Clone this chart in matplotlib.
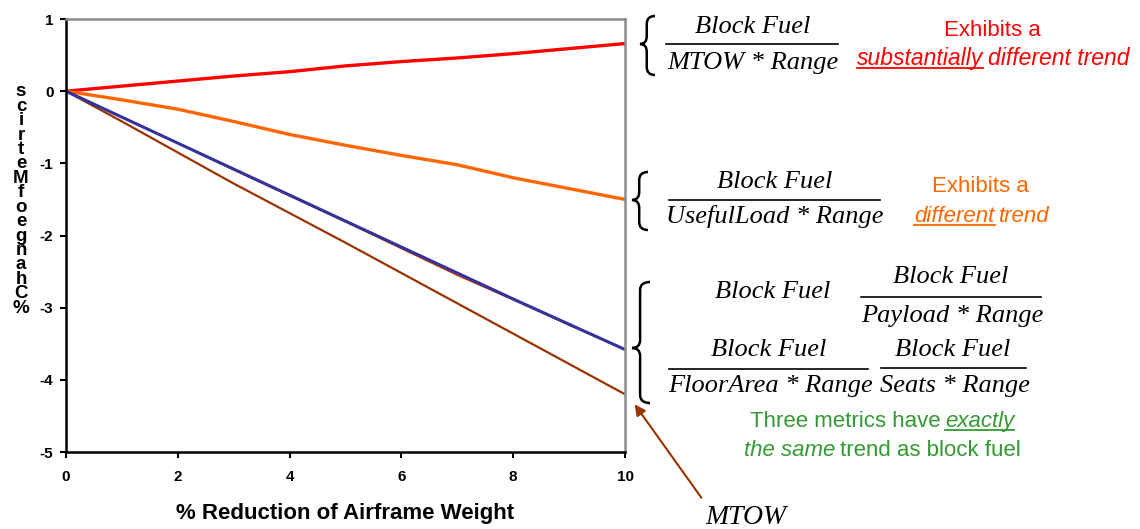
import numpy as np
import matplotlib.pyplot as plt
from matplotlib.path import Path
from matplotlib.patches import PathPatch, FancyArrowPatch
from matplotlib.lines import Line2D

plt.rcParams['axes.unicode_minus'] = False

# % reduction of airframe weight
x_reduction = [0, 1, 2, 3, 4, 5, 6, 7, 8, 9, 10]
# % change of each metric
fuel_per_mtow_range = [0, 0.07, 0.14, 0.21, 0.27, 0.35, 0.41, 0.46, 0.52, 0.59, 0.66]
fuel_per_useful_range = [0, -0.12, -0.25, -0.42, -0.60, -0.75, -0.89, -1.02, -1.20, -1.35, -1.50]
block_fuel = [0, -0.36, -0.72, -1.09, -1.45, -1.81, -2.18, -2.55, -2.89, -3.24, -3.58]
fuel_per_payload_range = [0, -0.36, -0.72, -1.08, -1.44, -1.80, -2.16, -2.52, -2.88, -3.23, -3.58]
mtow = [0, -0.42, -0.85, -1.28, -1.69, -2.10, -2.52, -2.94, -3.36, -3.78, -4.20]

x_ticks = [0, 2, 4, 6, 8, 10]
y_ticks = [-5, -4, -3, -2, -1, 0, 1]

W, H = 1140, 529
fig = plt.figure(figsize=(W / 100, H / 100), dpi=100)
ax = fig.add_axes([66 / W, 1 - 452 / H, (625 - 66) / W, (452 - 19) / H])

ax.plot(x_reduction, fuel_per_mtow_range, color='#ff0000', lw=2.4, solid_capstyle='butt')
ax.plot(x_reduction, fuel_per_useful_range, color='#ff6600', lw=2.4, solid_capstyle='butt')
ax.plot(x_reduction, mtow, color='#993300', lw=1.6, solid_capstyle='butt')
ax.plot(x_reduction, block_fuel, color='#cc3300', lw=1.2, solid_capstyle='butt')
ax.plot(x_reduction, fuel_per_payload_range, color='#333399', lw=2.2, solid_capstyle='butt')

ax.set_xlim(0, 10)
ax.set_ylim(-5, 1)
ax.set_xticks(x_ticks)
ax.set_yticks(y_ticks)
ax.tick_params(direction='out', length=4, width=1.5, labelsize=11, pad=5)
ax.tick_params(axis='x', pad=9)
for lab in ax.get_xticklabels() + ax.get_yticklabels():
    lab.set_fontweight('bold')
    lab.set_family('Liberation Sans')
for s in ['left', 'bottom']:
    ax.spines[s].set_color('black')
    ax.spines[s].set_linewidth(1.8)
for s in ['top', 'right']:
    ax.spines[s].set_color('#8c8c8c')
    ax.spines[s].set_linewidth(1.8)

ax.set_xlabel('% Reduction of Airframe Weight', fontsize=16, fontweight='bold',
              family='Liberation Sans', labelpad=14)

# garbled stacked y label
ylab = '\n'.join(reversed('%ChangeofMetrics'))
fig.text(21 / W, 1 - 200 / H, ylab, ha='center', va='center', fontsize=13.5,
         fontweight='bold', family='Liberation Sans', linespacing=0.8)


def fp(x, y):
    return (x / W, 1 - y / H)


def brace(x0, top, bot, w, tip):
    # left-pointing curly brace, pixel coords
    xm = x0 + w * 0.45
    r = 8
    verts = [fp(x0 + w, top), fp(xm, top), fp(xm, top + r),
             fp(xm, tip - r), fp(xm, tip), fp(x0, tip),
             fp(xm, tip), fp(xm, tip + r),
             fp(xm, bot - r), fp(xm, bot), fp(x0 + w, bot)]
    codes = [Path.MOVETO, Path.CURVE3, Path.CURVE3,
             Path.LINETO, Path.CURVE3, Path.CURVE3,
             Path.CURVE3, Path.CURVE3,
             Path.LINETO, Path.CURVE3, Path.CURVE3]
    fig.add_artist(PathPatch(Path(verts, codes), transform=fig.transFigure,
                             fill=False, lw=1.8, color='black'))


def bar(x1, x2, y):
    a, b = fp(x1, y), fp(x2, y)
    fig.add_artist(Line2D([a[0], b[0]], [a[1], b[1]], transform=fig.transFigure,
                          color='black', lw=1.2))


def eq(cx, y, s, size=19):
    fig.text(*fp(cx, y), s, ha='center', va='center', fontsize=size,
             family='Liberation Serif', style='italic')


renderer = fig.canvas.get_renderer()


def rich(cx, y, pieces, color, size=16):
    texts = []
    widths = []
    for s, it, ul in pieces:
        t = fig.text(0, 0, s, fontsize=size, family='Liberation Sans', color=color,
                     style='italic' if it else 'normal', ha='left', va='baseline')
        bb = t.get_window_extent(renderer)
        texts.append((t, ul))
        widths.append(bb.width)
    gap = size * 0.2 * 100 / 72
    total = sum(widths) + gap * (len(pieces) - 1)
    x = cx - total / 2
    for (t, ul), wdt in zip(texts, widths):
        t.set_position(fp(x, y))
        if ul:
            a, b = fp(x, y + 3), fp(x + wdt, y + 3)
            fig.add_artist(Line2D([a[0], b[0]], [a[1], b[1]], transform=fig.transFigure,
                                  color=color, lw=1.3))
        x += wdt + gap


# MTOW*Range
brace(640, 16, 75, 15, 44)
eq(753, 27, 'Block Fuel')
bar(666, 838, 44)
eq(753, 63, 'MTOW * Range')
fig.text(*fp(992, 30), 'Exhibits a', ha='center', va='center', fontsize=16,
         family='Liberation Sans', color='#ff0000')
rich(993, 65, [('substantially', True, True), ('different trend', True, False)], '#ff0000', 16.5)

# UsefulLoad*Range
brace(632, 172, 230, 16, 200)
eq(775, 182, 'Block Fuel')
bar(669, 880, 200)
eq(775, 217, 'UsefulLoad * Range')
fig.text(*fp(980, 187), 'Exhibits a', ha='center', va='center', fontsize=16,
         family='Liberation Sans', color='#ff6600')
rich(982, 222, [('different', True, True), ('trend', True, False)], '#ff6600')

# identical metrics
brace(632, 282, 403, 18, 348)
eq(773, 292, 'Block Fuel')
eq(951, 277, 'Block Fuel')
bar(861, 1041, 297)
eq(952, 316, 'Payload * Range')
eq(769, 350, 'Block Fuel')
bar(669, 868, 369)
eq(771, 386, 'FloorArea * Range')
eq(953, 350, 'Block Fuel')
bar(881, 1026, 368)
eq(955, 386, 'Seats * Range')
rich(882, 427, [('Three metrics have', False, False), ('exactly', True, True)], '#339933')
rich(882, 456, [('the same', True, False), ('trend as block fuel', False, False)], '#339933')

# MTOW arrow
fig.add_artist(FancyArrowPatch(fp(703, 500), fp(633, 402), transform=fig.transFigure,
                               arrowstyle='-|>', mutation_scale=16, color='#993300', lw=1.5))
fig.text(*fp(746, 517), 'MTOW', ha='center', va='center', fontsize=20,
         family='Liberation Serif', style='italic')

fig.savefig('out.png', dpi=100)
